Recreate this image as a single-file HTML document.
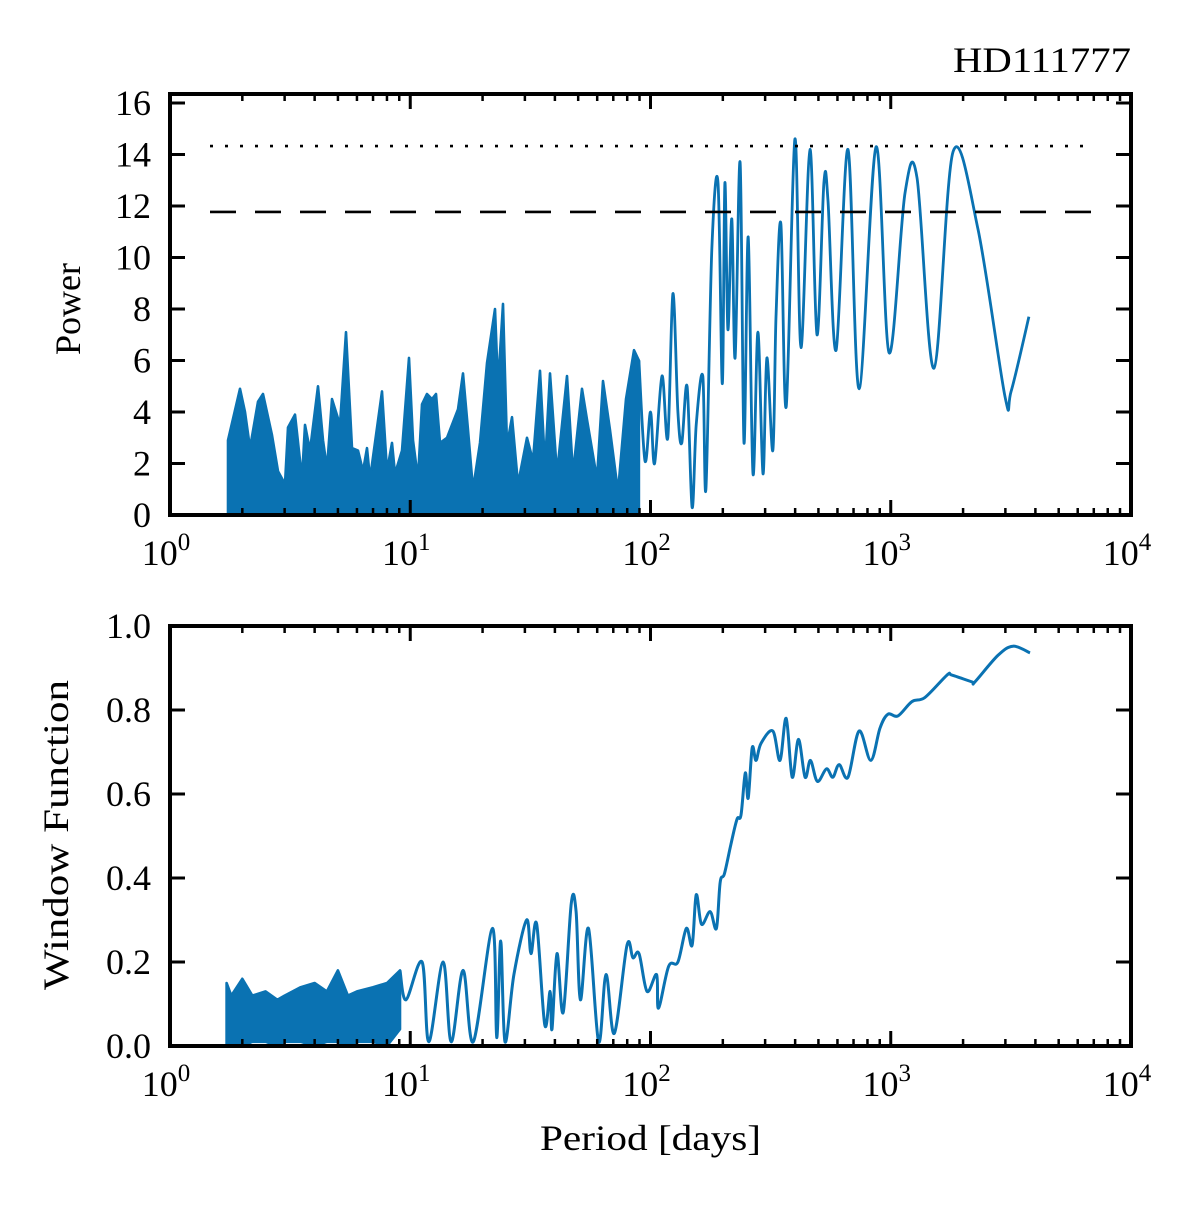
<!DOCTYPE html>
<html><head><meta charset="utf-8"><style>
html,body{margin:0;padding:0;background:#fff;}
svg{display:block;font-family:"Liberation Serif",serif;}
</style></head><body>
<svg id="fig" width="1200" height="1205" viewBox="0 0 1200 1205" xmlns="http://www.w3.org/2000/svg">
<text x="953" y="72" font-size="36" textLength="178" lengthAdjust="spacingAndGlyphs">HD111777</text>
<text transform="translate(80,355) rotate(-90)" font-size="36" textLength="92" lengthAdjust="spacingAndGlyphs">Power</text>
<text transform="translate(68,990) rotate(-90)" font-size="36" textLength="310" lengthAdjust="spacingAndGlyphs">Window Function</text>
<text x="540" y="1150" font-size="36" textLength="221" lengthAdjust="spacingAndGlyphs">Period [days]</text>
</svg>
<script>
// ---- top periodogram: dense noise envelope (1.7-90 d) ----
const topNoisePeriods = [1.743,1.956,2.052,2.153,2.325,2.438,2.659,2.816,3.010,3.098,3.314,3.544,3.646,3.825,4.130,4.334,4.503,4.724,5.101,5.402,5.722,6.061,6.358,6.606,6.799,7.627,8.002,8.395,8.640,9.240,9.879,10.27,10.77,11.19,11.74,12.32,12.80,13.30,14.22,14.92,15.80,16.58,17.39,18.25,19.51,20.86,22.53,23.19,24.32,25.27,26.51,28.08,30.62,32.43,34.67,36.37,38.15,40.80,44.91,47.57,51.86,54.40,59.88,63.40,67.82,73.21,79.1,85.4,89.5];
const topNoiseUpper = [2.9,4.9,4.0,2.6,4.4,4.7,3.1,1.7,1.2,3.4,3.9,1.4,3.5,2.5,5.0,2.9,1.8,4.5,3.5,7.1,2.6,2.5,1.7,2.6,1.4,4.8,1.7,2.8,1.6,2.5,6.1,2.9,1.4,4.3,4.7,4.5,4.7,2.8,3.0,3.5,4.1,5.5,3.3,1.0,2.8,5.9,8.0,5.0,8.2,2.7,3.8,1.2,3.0,2.1,5.6,1.9,5.5,1.6,5.4,1.6,4.9,3.7,1.4,5.2,3.3,0.9,4.5,6.4,6.0];
// ---- top periodogram: resolved line (>90 d) ----
const topPeriods = [89.5,94.9,100,104,111.6,118,124,130,135,142,149,155,165,170,180,191,199,204,210,218,225,236,245,255,267,280,294,305,323,333,349,367,399,423,461,493,527,548,592,664,738,869,984,1146,1286,1514,1816,2307,2990,3170,3760];
const topPower = [6.0,2.1,4.0,2.0,5.4,3.0,8.6,4.0,2.8,5.0,0.3,3.5,5.4,1.0,10.3,12.9,5.1,12.9,7.2,11.5,6.1,13.7,2.8,10.8,1.6,7.1,1.6,6.1,2.5,7.7,11.3,4.2,14.6,6.5,14.2,7.0,12.9,12.2,6.4,14.2,4.9,14.3,6.3,12.5,13.1,5.7,14.1,11.1,4.6,4.8,7.7];
const fapLevels = [14.33, 11.77];
const topYTicks = [0,2,4,6,8,10,12,14,16];
// ---- window function: dense noise band (1.7-9 d) ----
const winNoisePeriods = [1.72,1.8,2.0,2.2,2.5,2.8,3.0,3.5,4.0,4.5,5.0,5.5,6.0,7.0,8.0,9.06];
const winNoiseHigh = [0.15,0.12,0.16,0.12,0.13,0.11,0.12,0.14,0.15,0.13,0.18,0.12,0.13,0.14,0.15,0.18];
const winNoiseLow = [0.00,0.00,0.00,0.01,0.01,0.00,0.01,0.01,0.00,0.01,0.01,0.00,0.01,0.01,0.00,0.04];
// ---- window function: line (>9 d) ----
const winPeriods = [9.06,9.6,11.2,11.95,13.7,14.8,16.6,18.3,22.0,22.9,23.8,24.8,27.0,30.5,31.8,33.6,36.3,38.2,38.9,40.8,43.3,46.8,49.0,51.1,55.2,60.8,65.3,70.7,79.8,84.5,89.6,96.7,106,108,119,130,141,149,155,163,177,188,195,203,216,229,238,248,255,265,275,288,323,346,367,389,413,440,463,495,540,574,610,664,738,826,902,973,1071,1225,1388,1714,1797,2178,2240,2793,3228,3797];
const winPower = [0.18,0.11,0.20,0.01,0.20,0.01,0.18,0.01,0.28,0.02,0.25,0.01,0.17,0.30,0.22,0.29,0.05,0.13,0.04,0.22,0.08,0.34,0.32,0.11,0.28,0.01,0.17,0.03,0.24,0.21,0.22,0.13,0.17,0.09,0.19,0.20,0.28,0.24,0.36,0.29,0.32,0.28,0.39,0.41,0.48,0.54,0.55,0.65,0.59,0.71,0.68,0.72,0.75,0.68,0.78,0.64,0.73,0.64,0.68,0.63,0.66,0.64,0.67,0.64,0.75,0.68,0.757,0.79,0.786,0.82,0.83,0.883,0.883,0.867,0.867,0.93,0.952,0.936];
const winYTicks = [0.0,0.2,0.4,0.6,0.8,1.0];
const xDecades = [0,1,2,3,4];

const NS='http://www.w3.org/2000/svg';
const svg=document.getElementById('fig');
const X0=170,X1=1131,COL='#0a72b2';
function xs(p){return X0+Math.log10(p)/4*(X1-X0);}
function mk(tag,attrs,parent){const e=document.createElementNS(NS,tag);for(const k in attrs)e.setAttribute(k,attrs[k]);(parent||svg).appendChild(e);return e;}
function smoothPath(pts){
  let d='M'+pts[0][0].toFixed(1)+','+pts[0][1].toFixed(1);
  for(let i=0;i<pts.length-1;i++){
    const p0=pts[Math.max(0,i-1)],p1=pts[i],p2=pts[i+1],p3=pts[Math.min(pts.length-1,i+2)];
    const c1x=p1[0]+(p2[0]-p0[0])/6,c1y=p1[1]+(p2[1]-p0[1])/6;
    const c2x=p2[0]-(p3[0]-p1[0])/6,c2y=p2[1]-(p3[1]-p1[1])/6;
    d+='C'+c1x.toFixed(1)+','+c1y.toFixed(1)+' '+c2x.toFixed(1)+','+c2y.toFixed(1)+' '+p2[0].toFixed(1)+','+p2[1].toFixed(1);
  }
  return d;
}
function polyD(pts){return 'M'+pts.map(p=>p[0].toFixed(1)+','+p[1].toFixed(1)).join('L');}
function panel(name,top,bottom,ymax,yticks,fmt){
  const ys=v=>bottom-v/ymax*(bottom-top);
  const g=mk('g',{});
  
  
  return {g,ys,top,bottom,yticks,fmt};
}
function axes(P,name,lines){
  const {g,ys,top,bottom,yticks,fmt}=P;
  (lines||[]).forEach((v,i)=>{
    const l=mk('line',{x1:210,x2:1095,y1:ys(v),y2:ys(v),stroke:'#000','stroke-width':2.6,'stroke-dasharray':i===0?'3,12':'26,19'},g);
    
    
  });
  yticks.forEach(v=>{
    const y=ys(v);
    mk('line',{x1:X0,x2:X0+15,y1:y,y2:y,stroke:'#000','stroke-width':3},g);
    mk('line',{x1:X1,x2:X1-15,y1:y,y2:y,stroke:'#000','stroke-width':3},g);
    const t=mk('text',{x:151,y:y+12,'font-size':36,'text-anchor':'end'},g);
    t.textContent=fmt(v);
    
    
  });
  xDecades.forEach(k=>{
    const x=xs(Math.pow(10,k));
    mk('line',{x1:x,x2:x,y1:bottom,y2:bottom-15,stroke:'#000','stroke-width':3},g);
    mk('line',{x1:x,x2:x,y1:top,y2:top+15,stroke:'#000','stroke-width':3},g);
    const t=mk('text',{x:x-4,y:bottom+50,'font-size':36,'text-anchor':'middle'},g);
    
    
    t.textContent='10';
    const s=mk('tspan',{dy:-15,'font-size':25},t);s.textContent=String(k);
    if(k<4){for(let m=2;m<=9;m++){const xm=xs(m*Math.pow(10,k));
      mk('line',{x1:xm,x2:xm,y1:bottom,y2:bottom-7,stroke:'#000','stroke-width':2.5},g);
      mk('line',{x1:xm,x2:xm,y1:top,y2:top+7,stroke:'#000','stroke-width':2.5},g);}}
  });
  const f=mk('rect',{x:X0,y:top,width:X1-X0,height:bottom-top,fill:'none',stroke:'#000','stroke-width':4},g);
  
  
}
// top panel
const T=panel('power',94,515,16.35,topYTicks,v=>String(v));
{
  const up=topNoisePeriods.map((p,i)=>[xs(p),T.ys(topNoiseUpper[i])]);
  const area=mk('path',{d:polyD(up)+'L'+up[up.length-1][0].toFixed(1)+','+T.ys(0)+'L'+up[0][0].toFixed(1)+','+T.ys(0)+'Z',fill:COL,stroke:COL,'stroke-width':2.6,'stroke-linejoin':'round'},T.g);
  
  
  const pts=topPeriods.map((p,i)=>[xs(p),T.ys(topPower[i])]);
  const path=mk('path',{d:smoothPath(pts),fill:'none',stroke:COL,'stroke-width':2.8,'stroke-linejoin':'round'},T.g);
  
  
}
axes(T,'power',fapLevels);
// bottom panel
const B=panel('window',626,1046,1.0,winYTicks,v=>v.toFixed(1));
{
  const hi=winNoisePeriods.map((p,i)=>[xs(p),B.ys(winNoiseHigh[i])]);
  const lo=winNoisePeriods.map((p,i)=>[xs(p),B.ys(winNoiseLow[i])]).reverse();
  const band=mk('path',{d:polyD(hi.concat(lo))+'Z',fill:COL,stroke:COL,'stroke-width':2.6,'stroke-linejoin':'round'},B.g);
  
  
  const pts=winPeriods.map((p,i)=>[xs(p),B.ys(winPower[i])]);
  const path=mk('path',{d:smoothPath(pts),fill:'none',stroke:COL,'stroke-width':3,'stroke-linejoin':'round'},B.g);
  
  
}
axes(B,'window',[]);
</script>
</body></html>
